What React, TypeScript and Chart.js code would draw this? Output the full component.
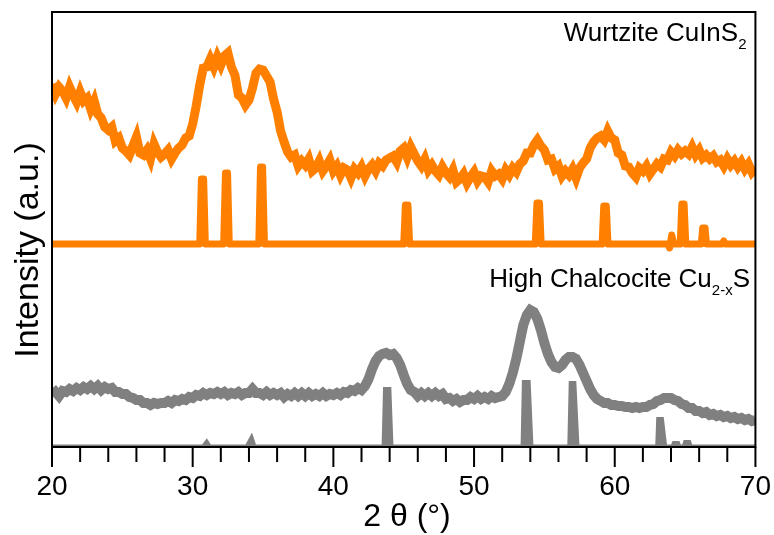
import React, { useEffect, useRef } from 'react';
import { Chart, registerables } from 'chart.js';

Chart.register(...registerables);

// ---------- data ----------
const X_MIN = 20;
const X_MAX = 70;
const X_STEP = 0.25; // sampling step of the measured patterns (2θ, degrees)
const MINOR_STEP = 2;
const MAJOR_STEP = 10;

// Measured pattern, wurtzite CuInS2 (offset, a.u.), 20..70 every 0.25°
const wurtziteMeasured = [
  363, 353, 360, 356,
  349, 360, 352, 345,
  355, 346, 349, 338,
  346, 333, 329, 320,
  317, 320, 306, 309,
  299, 296, 292, 301,
  310, 294, 292, 297,
  288, 303, 295, 290,
  293, 297, 288, 294,
  299, 302, 309, 311,
  323, 341, 362, 379,
  380, 388, 380, 390,
  382, 391, 394, 380,
  372, 352, 349, 342,
  347, 359, 374, 378,
  377, 371, 365, 348,
  335, 316, 305, 295,
  290, 292, 281, 286,
  282, 288, 276, 279,
  286, 276, 281, 287,
  276, 281, 272, 279,
  277, 269, 278, 274,
  280, 271, 278, 282,
  276, 284, 281, 287,
  289, 291, 285, 296,
  299, 290, 300, 293,
  286, 281, 288, 277,
  282, 276, 272, 280,
  274, 270, 277, 265,
  268, 273, 264, 270,
  275, 266, 271, 270,
  265, 276, 271, 273,
  268, 277, 272, 279,
  275, 283, 286, 294,
  294, 302, 307, 301,
  297, 287, 288, 278,
  281, 271, 276, 272,
  278, 269, 279, 284,
  288, 299, 305, 309,
  311, 307, 316, 309,
  307, 294, 292, 281,
  280, 274, 270, 279,
  276, 281, 273, 278,
  283, 280, 288, 287,
  295, 291, 297, 293,
  296, 293, 300, 292,
  297, 289, 292, 288,
  291, 285, 287, 281,
  288, 282, 286, 280,
  285, 278, 283, 275,
  279,
];

// Measured pattern, high chalcocite Cu2-xS (a.u.), 20..70 every 0.25°
const chalcociteMeasured = [
  52, 55, 51, 56,
  55, 58, 56, 59,
  57, 60, 58, 61,
  58, 61, 57, 60,
  58, 59, 55, 55,
  53, 53, 50, 49,
  47, 47, 44, 44,
  42, 44, 43, 44,
  44, 46, 44, 47,
  46, 48, 47, 50,
  49, 52, 51, 54,
  52, 54, 53, 55,
  53, 55, 52, 54,
  53, 55, 52, 54,
  54, 58, 54, 54,
  52, 55, 52, 54,
  52, 54, 50, 53,
  51, 54, 51, 54,
  51, 54, 51, 53,
  51, 54, 51, 53,
  52, 54, 52, 55,
  54, 57, 56, 59,
  57, 61, 68, 78,
  86, 91, 93, 94,
  92, 93, 89, 82,
  72, 63, 57, 55,
  51, 54, 51, 54,
  51, 54, 51, 53,
  48, 49, 46, 48,
  45, 47, 47, 50,
  48, 51, 48, 50,
  48, 51, 49, 50,
  51, 55, 63, 74,
  88, 105, 122, 132,
  137, 135, 128, 117,
  104, 93, 85, 80,
  79, 82, 87, 90,
  90, 88, 82, 74,
  66, 58, 52, 48,
  46, 44, 44, 42,
  42, 41, 41, 40,
  40, 39, 40, 39,
  40, 40, 42, 43,
  46, 47, 49, 49,
  49, 47, 46, 43,
  42, 39, 39, 36,
  36, 34, 35, 32,
  33, 31, 32, 30,
  31, 29, 30, 28,
  29, 27, 28, 26,
  27,
];

// Reference (calculated) stick pattern, wurtzite CuInS2
const wurtziteRefX = [
  20, 30.5, 30.62, 30.78, 30.9,
  32.2, 32.33, 32.48, 32.6,
  34.7, 34.82, 34.97, 35.1,
  45.0, 45.12, 45.3, 45.42,
  54.35, 54.47, 54.65, 54.77,
  59.1, 59.22, 59.4, 59.52,
  63.8, 63.9, 64.05, 64.2,
  64.65, 64.77, 64.93, 65.05,
  66.15, 66.25, 66.42, 66.52,
  67.65, 67.75, 67.85,
  70,
];
const wurtziteRefY = [
  203, 203, 268, 268, 203,
  203, 274, 274, 203,
  203, 280, 280, 203,
  203, 242, 242, 203,
  203, 244, 244, 203,
  203, 241, 241, 203,
  203, 199, 212, 203,
  203, 243, 243, 203,
  203, 219, 219, 203,
  203, 206, 203,
  203,
];

// Reference (calculated) stick pattern, high chalcocite Cu2-xS
const chalcociteRefX = [
  20, 30.7, 31.0, 31.25,
  33.8, 34.2, 34.45,
  43.5, 43.6, 44.05, 44.2,
  53.38, 53.47, 53.95, 54.15,
  56.7, 56.8, 57.2, 57.42,
  62.95, 63.02, 63.42, 63.65,
  64.05, 64.15, 64.55, 64.65,
  64.85, 64.95, 65.35, 65.45,
  70,
];
const chalcociteRefY = [
  1.5, 1.5, 7, 1.5,
  1.5, 12, 1.5,
  1.5, 59, 59, 1.5,
  1.5, 66, 66, 1.5,
  1.5, 65, 65, 1.5,
  1.5, 29, 29, 1.5,
  1.5, 5, 5, 1.5,
  1.5, 6, 6, 1.5,
  1.5,
];

const Y_MIN = 0;
const Y_MAX = 435;

const LABEL_WURTZITE = ['Wurtzite CuInS', '2', ''];
const LABEL_CHALCOCITE = ['High Chalcocite Cu', '2-x', 'S'];
const Y_TITLE = 'Intensity (a.u.)';
const X_TITLE = '2 θ (°)';

const ORANGE = 'rgb(255,128,0)';
const GREY = 'rgb(128,128,128)';
const FONT = '"Liberation Sans", Arial, Helvetica, sans-serif';

const sampled = (ys: number[]) => ys.map((y, i) => ({ x: X_MIN + i * X_STEP, y }));
const paired = (xs: number[], ys: number[]) => xs.map((x, i) => ({ x, y: ys[i] }));

function drawRichLabel(ctx: CanvasRenderingContext2D, parts: string[], right: number, baseline: number) {
  const [main, sub, tail] = parts;
  ctx.textAlign = 'left';
  ctx.textBaseline = 'alphabetic';
  const mainFont = `26px ${FONT}`;
  const subFont = `15px ${FONT}`;
  ctx.font = mainFont;
  const wMain = ctx.measureText(main).width;
  const wTail = tail ? ctx.measureText(tail).width : 0;
  ctx.font = subFont;
  const wSub = ctx.measureText(sub).width;
  let x = right - wMain - wSub - wTail;
  ctx.font = mainFont;
  ctx.fillText(main, x, baseline);
  x += wMain;
  ctx.font = subFont;
  ctx.fillText(sub, x, baseline + 8);
  x += wSub;
  if (tail) {
    ctx.font = mainFont;
    ctx.fillText(tail, x, baseline);
  }
}

const decorPlugin = {
  id: 'decor',
  afterDraw(chart: any) {
    const { ctx, chartArea: a, scales } = chart;
    const x = scales.x;
    ctx.save();
    ctx.strokeStyle = '#000';
    ctx.lineWidth = 2;
    ctx.strokeRect(a.left, a.top, a.right - a.left, a.bottom - a.top);
    for (let v = X_MIN; v <= X_MAX; v += MINOR_STEP) {
      const px = x.getPixelForValue(v);
      const len = v % MAJOR_STEP === 0 ? 20 : 15;
      ctx.beginPath();
      ctx.moveTo(px, a.bottom);
      ctx.lineTo(px, a.bottom + len);
      ctx.stroke();
    }
    ctx.fillStyle = '#000';
    drawRichLabel(ctx, LABEL_WURTZITE, 746.5, 41);
    drawRichLabel(ctx, LABEL_CHALCOCITE, 750, 287);

    // axis titles
    ctx.font = `32px ${FONT}`;
    ctx.textAlign = 'center';
    ctx.textBaseline = 'alphabetic';
    ctx.fillText(X_TITLE, 407, 526);

    ctx.save();
    ctx.translate(38, 250);
    ctx.rotate(-Math.PI / 2);
    ctx.font = `34px ${FONT}`;
    ctx.fillText(Y_TITLE, 0, 0);
    ctx.restore();
    ctx.restore();
  },
};

export default function App() {
  const ref = useRef<HTMLCanvasElement | null>(null);
  useEffect(() => {
    if (!ref.current) return;
    const chart = new Chart(ref.current, {
      type: 'line',
      data: {
        datasets: [
          {
            data: sampled(wurtziteMeasured),
            borderColor: ORANGE,
            borderWidth: 9,
            pointRadius: 0,
            tension: 0,
            fill: false,
            clip: 0,
          },
          {
            data: paired(wurtziteRefX, wurtziteRefY),
            borderColor: ORANGE,
            borderWidth: 7,
            borderJoinStyle: 'round',
            pointRadius: 0,
            tension: 0,
            fill: false,
            clip: 0,
          },
          {
            data: sampled(chalcociteMeasured),
            borderColor: GREY,
            borderWidth: 10,
            borderJoinStyle: 'miter',
            pointRadius: 0,
            tension: 0,
            fill: false,
            clip: 0,
          },
          {
            data: paired(chalcociteRefX, chalcociteRefY),
            borderColor: GREY,
            backgroundColor: GREY,
            borderWidth: 2,
            pointRadius: 0,
            tension: 0,
            fill: 'origin',
            clip: 0,
          },
        ] as any,
      },
      options: {
        animation: false,
        responsive: false,
        devicePixelRatio: 1,
        layout: { padding: { left: 52, top: 12, right: 16.5, bottom: 0 } },
        plugins: { legend: { display: false }, tooltip: { enabled: false } },
        scales: {
          x: {
            type: 'linear',
            min: X_MIN,
            max: X_MAX,
            border: { display: false },
            grid: {
              display: true,
              drawOnChartArea: false,
              drawTicks: true,
              tickLength: 20,
              tickColor: 'rgba(0,0,0,0)',
            },
            ticks: {
              stepSize: MINOR_STEP,
              autoSkip: false,
              maxRotation: 0,
              padding: 3,
              color: '#000',
              font: { size: 28, family: FONT },
              callback: (v: any) => (Number(v) % MAJOR_STEP === 0 ? String(v) : ''),
            },
            afterFit: (s: any) => {
              s.height = 88;
            },
          },
          y: {
            type: 'linear',
            min: Y_MIN,
            max: Y_MAX,
            display: false,
          },
        },
      } as any,
      plugins: [decorPlugin],
    });
    return () => chart.destroy();
  }, []);

  return (
    <div style={{ position: 'absolute', left: 0, top: 0, width: 774, height: 535, background: '#fff' }}>
      <canvas ref={ref} width={774} height={535} />
    </div>
  );
}
